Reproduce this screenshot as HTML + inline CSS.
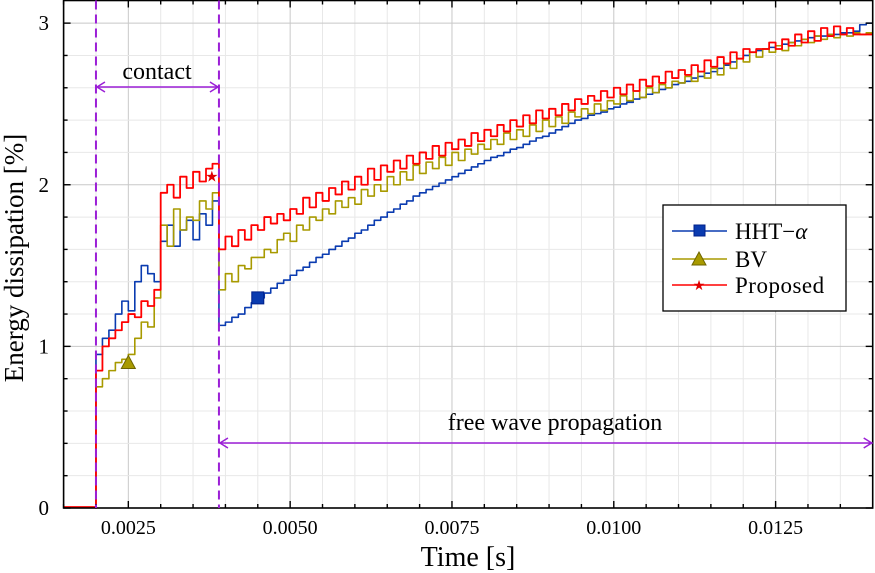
<!DOCTYPE html>
<html><head><meta charset="utf-8">
<style>
html,body{margin:0;padding:0;background:#fff;}
svg{display:block;font-family:"Liberation Serif",serif;}
</style></head>
<body>
<svg id="chart" width="875" height="573" viewBox="0 0 875 573" xmlns="http://www.w3.org/2000/svg">
<g id="grid"></g>
<g id="series"></g>
<g id="axes"></g>
<g id="annot"></g>
<g id="legend">
  <rect x="663" y="205" width="183" height="106" fill="#fff" stroke="#000" stroke-width="1.3"/>
  <g>
    <line x1="672" y1="231" x2="727" y2="231" stroke="#0a3bb0" stroke-width="1.6"/>
    <rect x="694" y="225" width="11" height="11" fill="#0a3bb0" stroke="#00208a"/>
    <text x="735" y="239" font-size="23">HHT−<tspan font-style="italic">α</tspan></text>
  </g>
  <g>
    <line x1="672" y1="259" x2="727" y2="259" stroke="#a89a00" stroke-width="1.6"/>
    <polygon points="699,252 706,265 692,265" fill="#a89a00" stroke="#6d6400"/>
    <text x="735" y="267" font-size="23">BV</text>
  </g>
  <g>
    <line x1="672" y1="285" x2="727" y2="285" stroke="#ff0000" stroke-width="1.6"/>
    <text x="699" y="290" font-size="14" fill="#e00000" text-anchor="middle">★</text>
    <text x="735" y="293" font-size="23" letter-spacing="0.5">Proposed</text>
  </g>
</g>
</svg>
<script>
const categoriesStart = 0.0020;
const categoriesStep = 0.0001;
const hhtValues = [0.95,1.05,1.10,1.20,1.28,1.22,1.40,1.50,1.45,1.40,1.65,1.75,1.62,1.72,1.78,1.66,1.82,1.75,1.90,1.13,
1.15,1.18,1.20,1.24,1.27,1.30,1.33,1.36,1.39,1.41,1.44,1.47,1.49,1.52,1.55,1.57,1.60,1.62,1.65,1.67,
1.70,1.72,1.75,1.78,1.80,1.83,1.85,1.88,1.90,1.93,1.95,1.97,1.99,2.01,2.03,2.05,2.07,2.09,2.11,2.13,
2.15,2.17,2.18,2.20,2.22,2.23,2.25,2.27,2.29,2.30,2.32,2.34,2.36,2.38,2.40,2.41,2.43,2.44,2.45,2.47,
2.48,2.50,2.51,2.53,2.54,2.56,2.57,2.59,2.60,2.62,2.63,2.64,2.66,2.67,2.69,2.70,2.72,2.74,2.76,2.78,
2.80,2.82,2.83,2.84,2.85,2.86,2.87,2.88,2.89,2.90,2.91,2.92,2.92,2.93,2.93,2.94,2.94,2.95,2.99,3.00,3.00];
const bvValues = [0.75,0.80,0.85,0.90,0.92,0.95,1.05,1.15,1.12,1.30,1.75,1.62,1.85,1.72,1.80,1.78,1.90,1.85,1.95,1.35,
1.45,1.40,1.50,1.48,1.55,1.55,1.60,1.58,1.66,1.70,1.65,1.75,1.72,1.80,1.78,1.85,1.82,1.90,1.86,1.92,
1.88,1.97,1.93,2.00,1.96,2.05,2.00,2.08,2.03,2.12,2.07,2.14,2.10,2.17,2.12,2.20,2.15,2.22,2.19,2.25,
2.22,2.28,2.25,2.32,2.28,2.34,2.30,2.37,2.33,2.40,2.36,2.42,2.38,2.45,2.42,2.47,2.44,2.50,2.46,2.52,
2.50,2.55,2.52,2.58,2.54,2.60,2.57,2.62,2.60,2.64,2.63,2.67,2.64,2.70,2.66,2.72,2.68,2.75,2.72,2.78,
2.76,2.82,2.79,2.84,2.82,2.86,2.83,2.88,2.86,2.90,2.88,2.92,2.90,2.93,2.91,2.93,2.92,2.94,2.93,2.94,2.94];
const proposedValues = [0.85,1.00,1.05,1.10,1.15,1.20,1.18,1.28,1.25,1.35,1.95,2.00,1.92,2.05,1.98,2.08,2.02,2.10,2.13,1.60,
1.68,1.62,1.72,1.66,1.75,1.72,1.80,1.76,1.82,1.78,1.85,1.82,1.92,1.86,1.95,1.90,1.98,1.94,2.02,1.97,
2.05,2.00,2.10,2.03,2.12,2.08,2.15,2.10,2.18,2.13,2.20,2.16,2.24,2.18,2.26,2.22,2.28,2.24,2.32,2.27,
2.34,2.30,2.37,2.33,2.40,2.36,2.43,2.38,2.46,2.41,2.47,2.43,2.50,2.46,2.53,2.50,2.55,2.52,2.58,2.54,
2.60,2.56,2.62,2.58,2.65,2.61,2.67,2.63,2.70,2.66,2.71,2.68,2.74,2.70,2.77,2.73,2.79,2.75,2.82,2.78,
2.84,2.82,2.84,2.84,2.88,2.84,2.90,2.86,2.93,2.88,2.95,2.89,2.97,2.92,2.98,2.93,2.97,2.93,2.93,2.93,2.93];
const xTickValues = [0.0025,0.0050,0.0075,0.0100,0.0125];
const xTickLabels = ["0.0025","0.0050","0.0075","0.0100","0.0125"];
const yTickValues = [0,1,2,3];
const yTickLabels = ["0","1","2","3"];
const markerHHT = [0.0045,1.30];
const markerBV = [0.0025,0.90];
const markerProposed = [0.00379,2.05];

const X0=63.6,X1=872.7,Y0=508,Y1=0.5;
const xmin=0.0015,xmax=0.014,ymin=0,ymax=3.14;
const xs=t=>X0+(t-xmin)/(xmax-xmin)*(X1-X0);
const ys=v=>Y0-(v-ymin)/(ymax-ymin)*(Y0-Y1);
const NS="http://www.w3.org/2000/svg";
function mk(tag,attrs,parent){const e=document.createElementNS(NS,tag);for(const k in attrs)e.setAttribute(k,attrs[k]);parent.appendChild(e);return e;}
const grid=document.getElementById('grid'),axes=document.getElementById('axes'),series=document.getElementById('series'),annot=document.getElementById('annot');

for(let k=0;k<=25;k++){const t=0.0015+k*0.0005;if(t>xmax+1e-9)break;
  const major=Math.abs((t/0.0025)-Math.round(t/0.0025))<1e-6;
  const l=mk('line',{x1:xs(t),x2:xs(t),y1:Y1,y2:Y0,stroke:major?'#c8c8c8':'#e8e8e8','stroke-width':1},grid);
  
  
}
for(let k=0;k<=15;k++){const v=k*0.2;if(v>ymax)break;
  const major=Math.abs(v-Math.round(v))<1e-6;
  const l=mk('line',{x1:X0,x2:X1,y1:ys(v),y2:ys(v),stroke:major?'#c8c8c8':'#e8e8e8','stroke-width':1},grid);
  
  
}

function stepPath(vals){
  let d=`L${xs(categoriesStart)},${ys(0)}`;
  for(let i=0;i<vals.length;i++){
    const t=categoriesStart+i*categoriesStep;
    const tn=Math.min(t+categoriesStep,xmax);
    d+=` L${xs(t)},${ys(vals[i])} L${xs(tn)},${ys(vals[i])}`;
  }
  return d;
}
const sHHT=mk('path',{d:`M${xs(categoriesStart)},${ys(0)} `+stepPath(hhtValues),fill:'none',stroke:'#0a3bb0','stroke-width':1.6,'stroke-linejoin':'round'},series);


const sBV=mk('path',{d:`M${xs(categoriesStart)},${ys(0)} `+stepPath(bvValues),fill:'none',stroke:'#a89a00','stroke-width':1.6,'stroke-linejoin':'round'},series);


const sP=mk('path',{d:`M${xs(xmin)},${ys(0)-1} L${xs(categoriesStart)},${ys(0)-1} `+stepPath(proposedValues),fill:'none',stroke:'#ff0000','stroke-width':1.8,'stroke-linejoin':'round'},series);



const mh=mk('rect',{x:xs(markerHHT[0])-6,y:ys(markerHHT[1])-6,width:12,height:12,fill:'#0a3bb0',stroke:'#00208a'},series);


const bx=xs(markerBV[0]),by=ys(markerBV[1]);
const mb=mk('polygon',{points:`${bx},${by-7} ${bx+7},${by+6} ${bx-7},${by+6}`,fill:'#a89a00',stroke:'#6d6400'},series);


const mp=mk('text',{x:xs(markerProposed[0]),y:ys(markerProposed[1])+5,'font-size':15,fill:'#e00000','text-anchor':'middle'},series);
mp.textContent='★';



const fr=mk('rect',{x:X0,y:Y1,width:X1-X0,height:Y0-Y1,fill:'none',stroke:'#000','stroke-width':1.6},axes);


for(let k=0;k<=25;k++){const t=0.0015+k*0.0005;if(t>xmax+1e-9)break;
  const major=Math.abs((t/0.0025)-Math.round(t/0.0025))<1e-6;const L=major?7:4;
  const a=mk('line',{x1:xs(t),x2:xs(t),y1:Y0,y2:Y0-L,stroke:'#000','stroke-width':1.4},axes);
  
  
  const b=mk('line',{x1:xs(t),x2:xs(t),y1:Y1,y2:Y1+L,stroke:'#000','stroke-width':1.4},axes);
  
  
}
for(let k=0;k<=15;k++){const v=k*0.2;if(v>ymax)break;
  const major=Math.abs(v-Math.round(v))<1e-6;const L=major?7:4;
  const a=mk('line',{x1:X0,x2:X0+L,y1:ys(v),y2:ys(v),stroke:'#000','stroke-width':1.4},axes);
  
  
  const b=mk('line',{x1:X1,x2:X1-L,y1:ys(v),y2:ys(v),stroke:'#000','stroke-width':1.4},axes);
  
  
}
xTickValues.forEach((t,i)=>{
  const e=mk('text',{x:xs(t),y:534,'font-size':20,'text-anchor':'middle'},axes);
  e.textContent=xTickLabels[i];
  
  
});
yTickValues.forEach((v,i)=>{
  const e=mk('text',{x:49,y:ys(v)+7,'font-size':21,'text-anchor':'end'},axes);
  e.textContent=yTickLabels[i];
  
  
});
const xt=mk('text',{x:468,y:566,'font-size':28,'text-anchor':'middle'},axes);
xt.textContent='Time [s]';


const yt=mk('text',{x:0,y:0,'font-size':27,'text-anchor':'middle',transform:'translate(23,258) rotate(-90)'},axes);
yt.textContent='Energy dissipation [%]';



const purple='#9b1fd6';
[0.002,0.0039].forEach(t=>{
  const l=mk('line',{x1:xs(t),x2:xs(t),y1:Y1,y2:Y0,stroke:purple,'stroke-width':2,'stroke-dasharray':'9,5'},annot);
  
  
});
function arrow(x1,x2,y,name){
  const g=mk('g',{},annot);
  
  
  mk('line',{x1:x1,x2:x2,y1:y,y2:y,stroke:purple,'stroke-width':1.5},g);
  mk('path',{d:`M${x1+9},${y-5} L${x1+1},${y} L${x1+9},${y+5}`,fill:'none',stroke:purple,'stroke-width':1.5},g);
  mk('path',{d:`M${x2-9},${y-5} L${x2-1},${y} L${x2-9},${y+5}`,fill:'none',stroke:purple,'stroke-width':1.5},g);
}
arrow(xs(0.002),xs(0.0039),87,'contact-arrow');
arrow(xs(0.0039),X1,443,'free-wave-arrow');
const ct=mk('text',{x:157,y:79,'font-size':24,'text-anchor':'middle'},annot);
ct.textContent='contact';


const ft=mk('text',{x:555,y:430,'font-size':24,'text-anchor':'middle'},annot);
ft.textContent='free wave propagation';


</script>
</body></html>
